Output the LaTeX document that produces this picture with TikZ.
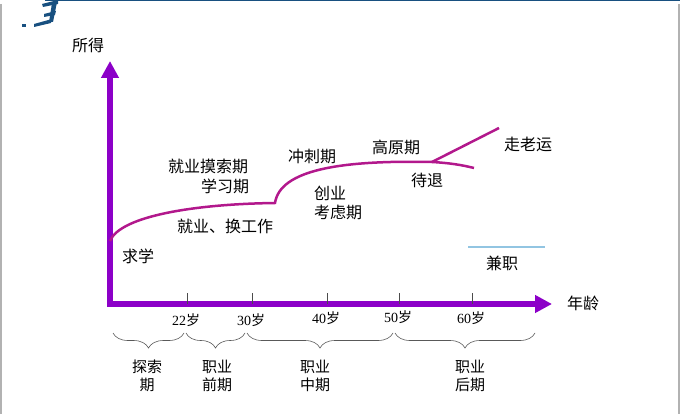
\documentclass[tikz,border=0pt]{standalone}
\usepackage{fontspec}
\setmainfont{Liberation Serif}
\newfontfamily\cjk{Noto Sans CJK SC}
\usetikzlibrary{arrows.meta,decorations.pathreplacing}
\definecolor{axisviolet}{RGB}{140,0,200}
\definecolor{curvemagenta}{RGB}{178,24,140}
\definecolor{parttimeblue}{RGB}{146,197,226}
\definecolor{logoblue}{RGB}{24,80,128}
\tikzset{
  stagelabel/.style={font=\cjk\fontsize{16}{18}\selectfont, inner sep=0pt},
  agelabel/.style={font=\fontsize{14}{16}\selectfont, inner sep=0pt},
  periodlabel/.style={font=\cjk\fontsize{15}{18}\selectfont, inner sep=0pt, align=center},
  agebrace/.style={decorate, decoration={brace, mirror, amplitude=15pt}, draw=gray!70!black, line width=.6pt},
  ticker/.style={draw=gray!60!black, line width=.6pt},
  career/.style={curvemagenta, line width=2.5pt},
}
\begin{document}
\begin{tikzpicture}[x=1pt, y=-1pt, >={Triangle[length=17pt,width=17pt]}]
  \useasboundingbox (0,0) rectangle (680,414);
  % frame and logo
  \draw[gray!60, line width=1.5pt] (0.75,4)--(0.75,414);
  \draw[gray!60, line width=1.5pt] (679,4)--(679,414);
  \draw[logoblue, line width=1.5pt] (45,0.75)--(680,0.75);
  \fill[logoblue] (42,4)--(58,0)--(58,4)--(43,7)--cycle;
  \fill[logoblue] (44,14)--(56,11)--(55,15)--(44,17)--cycle;
  \fill[logoblue] (34,24)--(52,19)--(51,23)--(34,27)--cycle;
  \fill[logoblue] (52,3)--(57,2)--(53,22)--(49,22)--cycle;
  \fill[logoblue] (22,24) rectangle (26,27);

  % axes
  \coordinate (ytip) at (110,61);
  \coordinate (origin) at (110,304);
  \coordinate (xtip) at (552,304);
  \draw[axisviolet, line width=5.5pt, <->, line join=miter] (ytip)--(origin)--(xtip);
  \node[stagelabel] (income) at (88,45) {所得};
  \node[stagelabel] (age) at (583,303) {年龄};

  % ages
  \foreach \x/\a/\y [count=\i] in {187/22/320, 252/30/320, 327/40/318, 399/50/317, 472/60/318}{
    \coordinate (t\i) at (\x,293);
    \draw[ticker] (t\i)--(\x,304);
    \node[agelabel] (a\i) at (\x-1,\y) {\a{\cjk 岁}};
  }

  % periods
  \coordinate (b0) at (113,333);
  \coordinate (b1) at (184,333);
  \coordinate (b2) at (186,333);
  \coordinate (b3) at (245,333);
  \coordinate (b4) at (247,333);
  \coordinate (b5) at (393,333);
  \coordinate (b6) at (395,333);
  \coordinate (b7) at (535,333);
  \draw[agebrace] (b0)--(b1);
  \draw[agebrace] (b2)--(b3);
  \draw[agebrace] (b4)--(b5);
  \draw[agebrace] (b6)--(b7);
  \node[periodlabel] (explore) at (147,376) {探索\\期};
  \node[periodlabel] (early) at (217,376) {职业\\前期};
  \node[periodlabel] (middle) at (315,376) {职业\\中期};
  \node[periodlabel] (late) at (470,376) {职业\\后期};

  % career curve
  \coordinate (c0) at (110,241);
  \coordinate (c1) at (275,203);
  \coordinate (c2) at (432,162);
  \coordinate (c3) at (474,168);
  \coordinate (c4) at (499,128);
  \draw[career] (c0) .. controls (120,216) and (195,204) .. (c1)
    .. controls (280,170) and (340,160) .. (c2)
    .. controls (450,163) and (462,165) .. (c3);
  \draw[career] (c2)--(c4);
  \coordinate (p0) at (468,247);
  \coordinate (p1) at (545,247);
  \draw[parttimeblue, line width=2.5pt] (p0)--(p1);

  % stage texts
  \node[stagelabel] (search) at (208,166) {就业摸索期};
  \node[stagelabel] (learn) at (225,186) {学习期};
  \node[stagelabel] (job) at (225,226) {就业、换工作};
  \node[stagelabel] (study) at (138,256) {求学};
  \node[stagelabel] (sprint) at (312,156) {冲刺期};
  \node[stagelabel] (venture) at (330,193) {创业};
  \node[stagelabel] (ponder) at (338,212) {考虑期};
  \node[stagelabel] (plateau) at (396,147) {高原期};
  \node[stagelabel] (retire) at (427,180) {待退};
  \node[stagelabel] (luck) at (528,144) {走老运};
  \node[stagelabel] (parttime) at (502,263) {兼职};
\end{tikzpicture}
\end{document}
